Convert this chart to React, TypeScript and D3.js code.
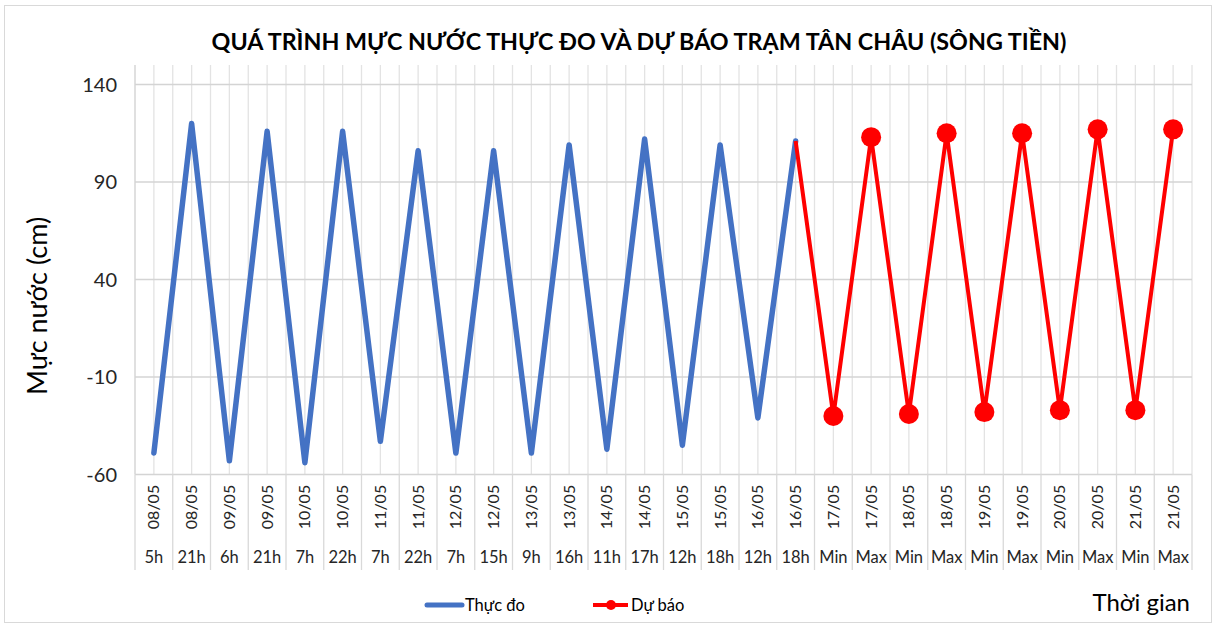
import React, { useRef, useEffect } from "react";
import * as d3 from "d3";

// categories: date + hour
const dates = [
  "08/05", "08/05", "09/05", "09/05", "10/05", "10/05", "11/05", "11/05",
  "12/05", "12/05", "13/05", "13/05", "14/05", "14/05", "15/05", "15/05",
  "16/05", "16/05", "17/05", "17/05", "18/05", "18/05", "19/05", "19/05",
  "20/05", "20/05", "21/05", "21/05",
];
const hours = [
  "5h", "21h", "6h", "21h", "7h", "22h", "7h", "22h", "7h", "15h", "9h", "16h",
  "11h", "17h", "12h", "18h", "12h", "18h", "Min", "Max", "Min", "Max", "Min",
  "Max", "Min", "Max", "Min", "Max",
];
// measured (first 18 categories)
const thucDo = [-49, 120, -53, 116, -54, 116, -43, 106, -49, 106, -49, 109, -47, 112, -45, 109, -31, 111];
// forecast (starts at last measured point, index 17)
const duBao = [111, -30, 113, -29, 115, -28, 115, -27, 117, -27, 117];
const duBaoStart = 17;
const yTicks = [-60, -10, 40, 90, 140];

const W = 1214;
const H = 624;
const FONT = "Lato, 'Liberation Sans', sans-serif";

const App = () => {
  const ref = useRef<SVGSVGElement>(null);

  useEffect(() => {
    const svg = d3.select(ref.current);
    svg.selectAll("*").remove();

    const left = 135, right = 1192, top = 65, bottom = 474.5;

    // chart border
    svg.append("rect")
      .attr("x", 4.5).attr("y", 5.5)
      .attr("width", 1207).attr("height", 617)
      .attr("fill", "#fff").attr("stroke", "#d9d9d9").attr("stroke-width", 1);

    const x = d3.scaleBand<number>()
      .domain(d3.range(dates.length))
      .range([left, right]);
    const bw = x.bandwidth();
    const cx = (i: number) => (x(i) as number) + bw / 2;

    const y = d3.scaleLinear().domain([-60, 140]).range([bottom, 84.5]);

    // vertical gridlines every half category
    const g = svg.append("g");
    d3.range(dates.length * 2 + 1).forEach((k) => {
      const xx = left + (k * bw) / 2;
      g.append("line")
        .attr("x1", xx).attr("x2", xx)
        .attr("y1", top).attr("y2", bottom)
        .attr("stroke", k === 0 ? "#cfcfcf" : "#e3e3e3")
        .attr("stroke-width", 1.3);
    });
    // horizontal gridlines
    yTicks.forEach((t) => {
      g.append("line")
        .attr("x1", left).attr("x2", right)
        .attr("y1", y(t)).attr("y2", y(t))
        .attr("stroke", "#d4d4d4").attr("stroke-width", 1.3);
    });

    // y tick labels
    yTicks.forEach((t) => {
      svg.append("text")
        .attr("x", 117).attr("y", y(t))
        .attr("dy", "0.35em")
        .attr("text-anchor", "end")
        .attr("font-family", FONT).attr("font-size", 20)
        .attr("fill", "#262626")
        .text(t);
    });

    // category axis boxes
    d3.range(dates.length + 1).forEach((k) => {
      const xx = left + k * bw;
      svg.append("line")
        .attr("x1", xx).attr("x2", xx)
        .attr("y1", bottom).attr("y2", 570)
        .attr("stroke", "#d9d9d9").attr("stroke-width", 1.3);
    });
    dates.forEach((d, i) => {
      svg.append("text")
        .attr("transform", `translate(${cx(i)}, 507) rotate(-90)`)
        .attr("text-anchor", "middle")
        .attr("dy", "0.35em")
        .attr("font-family", FONT).attr("font-size", 16)
        .attr("fill", "#262626")
        .text(d);
    });
    hours.forEach((h, i) => {
      svg.append("text")
        .attr("x", cx(i)).attr("y", 557)
        .attr("dy", "0.35em")
        .attr("text-anchor", "middle")
        .attr("font-family", FONT).attr("font-size", 16.5)
        .attr("fill", "#262626")
        .text(h);
    });

    // lines
    const line = d3.line<[number, number]>().x((d) => d[0]).y((d) => d[1]);
    const blueData = thucDo.map((v, i) => [cx(i), y(v)] as [number, number]);
    const redData = duBao.map((v, i) => [cx(i + duBaoStart), y(v)] as [number, number]);

    svg.append("path")
      .attr("d", line(blueData))
      .attr("fill", "none").attr("stroke", "#4472C4")
      .attr("stroke-width", 5.5).attr("stroke-linejoin", "round").attr("stroke-linecap", "round");

    svg.append("path")
      .attr("d", line(redData))
      .attr("fill", "none").attr("stroke", "#FF0000")
      .attr("stroke-width", 4).attr("stroke-linejoin", "round");

    svg.selectAll(".mk")
      .data(redData.slice(1))
      .join("circle")
      .attr("cx", (d) => d[0]).attr("cy", (d) => d[1])
      .attr("r", 10).attr("fill", "#FF0000");

    // title
    svg.append("text")
      .attr("x", 639).attr("y", 42)
      .attr("dy", "0.35em")
      .attr("text-anchor", "middle")
      .attr("font-family", FONT).attr("font-weight", "bold").attr("font-size", 23.3)
      .attr("fill", "#000")
      .text("QUÁ TRÌNH MỰC NƯỚC THỰC ĐO VÀ DỰ BÁO TRẠM TÂN CHÂU (SÔNG TIỀN)");

    // y label
    svg.append("text")
      .attr("transform", "translate(38, 306) rotate(-90)")
      .attr("dy", "0.35em")
      .attr("text-anchor", "middle")
      .attr("font-family", FONT).attr("font-size", 27)
      .attr("fill", "#000")
      .text("Mực nước (cm)");

    // x label
    svg.append("text")
      .attr("x", 1190).attr("y", 603)
      .attr("dy", "0.35em")
      .attr("text-anchor", "end")
      .attr("font-family", FONT).attr("font-size", 24)
      .attr("fill", "#000")
      .text("Thời gian");

    // legend
    const lg = svg.append("g");
    lg.append("line")
      .attr("x1", 427).attr("x2", 462).attr("y1", 605).attr("y2", 605)
      .attr("stroke", "#4472C4").attr("stroke-width", 5).attr("stroke-linecap", "round");
    lg.append("text")
      .attr("x", 465).attr("y", 605).attr("dy", "0.35em")
      .attr("font-family", FONT).attr("font-size", 16.5).attr("fill", "#000")
      .text("Thực đo");
    lg.append("line")
      .attr("x1", 593).attr("x2", 628).attr("y1", 605).attr("y2", 605)
      .attr("stroke", "#FF0000").attr("stroke-width", 4);
    lg.append("circle")
      .attr("cx", 611).attr("cy", 605).attr("r", 5).attr("fill", "#FF0000");
    lg.append("text")
      .attr("x", 631).attr("y", 605).attr("dy", "0.35em")
      .attr("font-family", FONT).attr("font-size", 16.5).attr("fill", "#000")
      .text("Dự báo");
  }, []);

  return (
    <svg
      ref={ref}
      width={W}
      height={H}
      style={{ position: "absolute", left: 0, top: 0, background: "#fff" }}
    />
  );
};

export default App;
